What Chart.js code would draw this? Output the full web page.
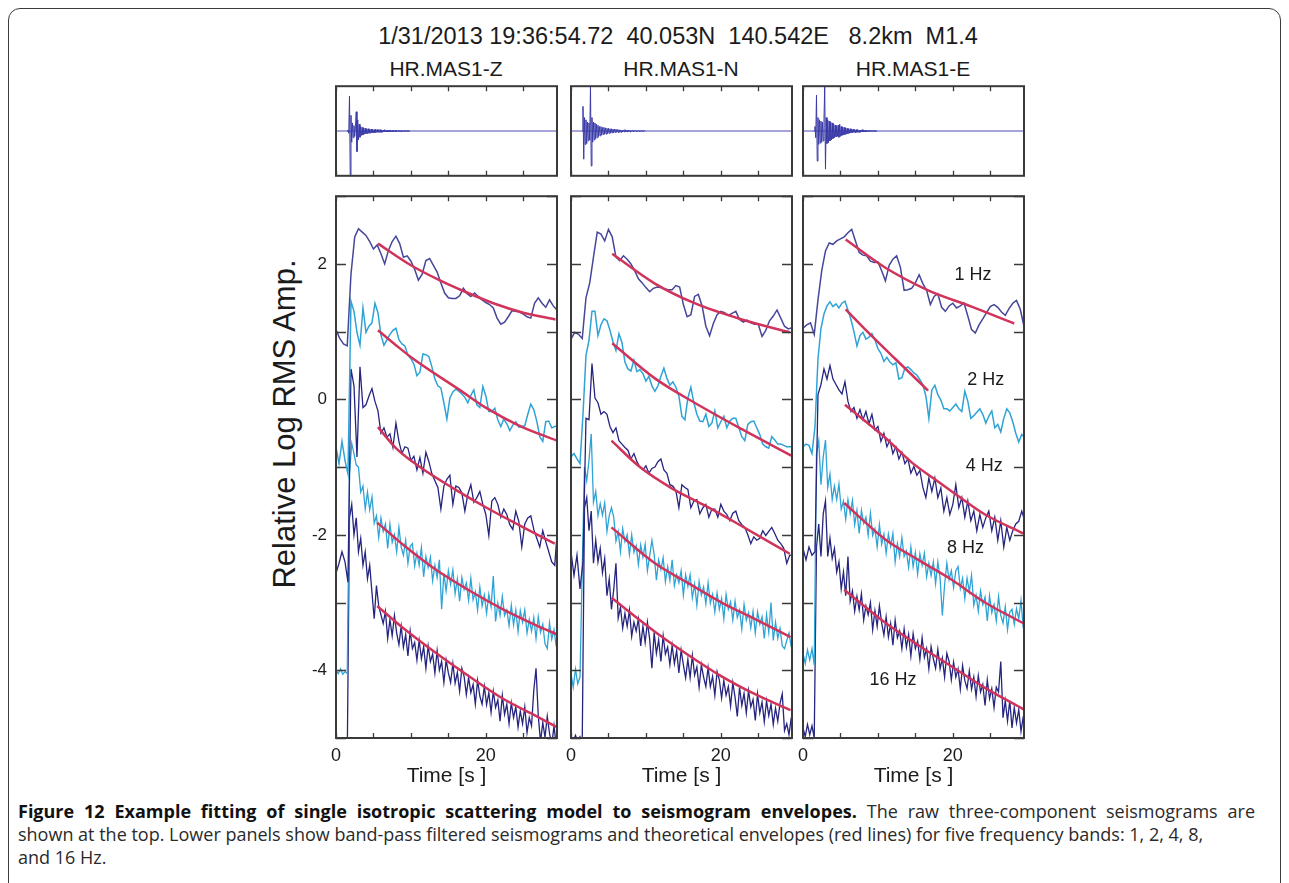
<!DOCTYPE html>
<html>
<head>
<meta charset="utf-8">
<script src="https://cdn.jsdelivr.net/npm/chart.js@4.4.0/dist/chart.umd.min.js"></script>
<style>
  html, body { margin: 0; padding: 0; background: #fff; }
  body { width: 1289px; height: 883px; position: relative; overflow: hidden; font-family: "Liberation Sans", Arial, sans-serif; }
  .box { position: absolute; left: 8px; top: 8px; width: 1271px; height: 900px; border: 1.5px solid #3b3b3b; border-radius: 12px; }
  canvas { position: absolute; }
  .txt { position: absolute; color: #1b1b1b; white-space: pre; text-align: center; }
  .cap { position: absolute; left: 18px; font-family: "Open Sans", sans-serif; font-size: 18px; line-height: 23px; color: #2a2a2a; white-space: nowrap; }
  .cap b { color: #111; }
  .just { width: 1237px; white-space: normal; text-align: justify; text-align-last: justify; }
</style>
</head>
<body>
<div class="box"></div>

<div class="txt" style="left:178px; width:1000px; top:23px; font-size:23.5px;">1/31/2013 19:36:54.72  40.053N  140.542E   8.2km  M1.4</div>
<div class="txt" style="left:346px; width:200px; top:57px; font-size:21px;">HR.MAS1-Z</div>
<div class="txt" style="left:581px; width:200px; top:57px; font-size:21px;">HR.MAS1-N</div>
<div class="txt" style="left:813px; width:200px; top:57px; font-size:21px;">HR.MAS1-E</div>
<div class="txt" style="left:85px; width:400px; top:406px; font-size:31px; line-height:36px; transform: rotate(-90deg);">Relative Log RMS Amp.</div>

<canvas id="topZ" width="241" height="110" style="left:326px; top:76px;"></canvas>
<canvas id="topN" width="241" height="110" style="left:561px; top:76px;"></canvas>
<canvas id="topE" width="241" height="110" style="left:793px; top:76px;"></canvas>
<canvas id="envZ" width="289" height="620" style="left:276px; top:177px;"></canvas>
<canvas id="envN" width="289" height="620" style="left:511px; top:177px;"></canvas>
<canvas id="envE" width="289" height="620" style="left:743px; top:177px;"></canvas>

<div class="cap just" style="top:800px;"><b>Figure 12 Example fitting of single isotropic scattering model to seismogram envelopes.</b> The raw three-component seismograms are</div>
<div class="cap" style="top:823px;">shown at the top. Lower panels show band-pass filtered seismograms and theoretical envelopes (red lines) for five frequency bands: 1, 2, 4, 8,</div>
<div class="cap" style="top:846px;">and 16 Hz.</div>

<script>
  // frequency bands and sample spacing (s) of the digitised envelopes
  const bandNames = ['1 Hz', '2 Hz', '4 Hz', '8 Hz', '16 Hz'];
  const bandStep = [0.5, 0.4, 0.4, 0.3, 0.3];
  const xTickValues = [0, 5, 10, 15, 20, 25];
  const xTickLabels = [0, 20];
  const yTickValues = [-5, -4, -3, -2, -1, 0, 1, 2, 3];
  const yTickLabels = [-4, -2, 0, 2];

  // HR.MAS1-Z envelopes (log RMS amplitude)
  const zEnv1 = [1.03,0.90,0.82,0.79,1.85,2.40,2.52,2.47,2.42,2.33,
    2.22,2.28,2.15,2.00,2.20,2.33,2.41,2.30,2.10,2.12,
    2.04,1.92,1.76,1.85,2.05,2.08,1.98,1.88,1.72,1.57,
    1.50,1.49,1.49,1.53,1.64,1.56,1.52,1.57,1.52,1.47,
    1.43,1.40,1.35,1.20,1.11,1.14,1.22,1.31,1.30,1.29,
    1.26,1.22,1.20,1.42,1.50,1.42,1.36,1.47,1.38,1.32];
  const zEnv2 = [-0.70,-0.95,-0.62,-0.90,-1.10,1.45,1.30,0.99,0.80,1.35,
    0.99,1.08,1.13,1.42,1.28,0.95,0.80,0.88,0.96,1.02,
    1.05,0.88,0.82,0.79,0.65,0.60,0.52,0.35,0.40,0.67,
    0.66,0.63,0.48,0.30,0.20,0.17,-0.05,-0.29,0.02,0.11,
    0.15,0.12,0.08,0.03,-0.05,0.06,0.14,-0.08,-0.12,0.19,
    0.05,-0.18,-0.18,-0.13,-0.30,-0.40,-0.29,-0.36,-0.46,-0.38,
    -0.33,-0.41,-0.40,-0.39,-0.22,-0.07,-0.15,-0.32,-0.55,-0.62,
    -0.33,-0.32,-0.42,-0.40,-0.39];
  const zEnv4 = [-2.57,-2.42,-2.25,-2.40,-2.70,0.45,0.20,-0.85,0.48,-0.12,
    -0.08,0.05,0.16,-0.03,-0.17,-0.50,-0.42,-0.56,-0.51,-0.71,
    -0.35,-0.62,-0.80,-0.70,-0.72,-0.90,-0.84,-1.04,-0.86,-1.09,
    -0.78,-0.92,-1.10,-1.20,-1.30,-1.62,-1.28,-1.18,-1.12,-1.55,
    -1.28,-1.30,-1.38,-1.65,-1.40,-1.26,-1.52,-1.45,-1.36,-1.55,
    -1.70,-2.01,-1.50,-1.45,-1.55,-1.74,-1.62,-1.70,-1.85,-1.92,
    -1.65,-1.80,-2.18,-1.84,-1.75,-1.72,-1.92,-2.05,-2.18,-1.94,
    -2.10,-2.25,-2.40,-2.45,-1.84];
  const zEnv8 = [-4.00,-4.05,-3.98,-4.06,-4.02,-4.05,-1.10,-0.65,-0.80,-0.97,
    -1.00,-1.37,-1.28,-1.62,-1.37,-1.63,-1.44,-1.83,-1.72,-2.04,
    -1.75,-1.95,-1.84,-2.20,-1.84,-2.11,-2.00,-2.25,-1.89,-2.18,
    -2.30,-2.08,-2.42,-2.17,-2.13,-2.46,-2.27,-2.45,-2.19,-2.62,
    -2.32,-2.48,-2.33,-2.68,-2.45,-2.63,-2.37,-3.10,-2.57,-2.83,
    -2.53,-2.73,-2.52,-2.87,-2.65,-2.98,-2.63,-2.81,-2.71,-2.97,
    -2.64,-2.96,-2.84,-3.11,-2.77,-3.05,-2.89,-3.16,-2.88,-3.06,
    -2.61,-3.28,-3.01,-3.19,-2.91,-3.19,-3.11,-3.34,-3.04,-3.33,
    -3.11,-3.43,-3.12,-3.29,-3.11,-3.45,-3.25,-3.42,-3.22,-3.53,
    -3.21,-3.44,-3.32,-3.61,-3.68,-3.30,-3.54,-3.40,-3.65];
  const zEnv16 = [-5.30,-5.30,-5.30,-5.30,-5.30,-5.30,-1.75,-1.55,-2.00,-1.75,
    -2.25,-2.05,-2.45,-2.25,-2.65,-2.45,-2.85,-3.24,-2.75,-3.05,
    -3.18,-3.31,-3.13,-3.53,-3.25,-3.49,-3.19,-3.45,-3.62,-3.35,
    -3.66,-3.47,-3.79,-3.42,-3.68,-3.59,-3.85,-3.56,-3.83,-3.65,
    -3.97,-3.64,-3.87,-3.76,-4.04,-3.71,-4.00,-3.87,-4.18,-3.85,
    -4.04,-4.18,-3.90,-4.19,-4.03,-4.31,-3.97,-4.09,-4.36,-4.11,
    -4.33,-4.21,-4.50,-4.15,-4.38,-4.50,-4.24,-4.51,-4.33,-4.62,
    -4.31,-4.55,-4.44,-4.75,-4.37,-4.65,-4.50,-4.79,-4.48,-4.70,
    -4.54,-4.84,-4.60,-4.79,-4.54,-4.92,-4.70,-4.82,-4.30,-3.97,
    -4.67,-5.06,-4.77,-4.99,-4.68,-4.93,-5.10,-4.82,-5.12];

  // HR.MAS1-N envelopes
  const nEnv1 = [0.89,0.99,0.96,0.90,1.50,1.72,2.10,2.47,2.44,2.34,
    2.51,2.40,2.10,2.05,2.12,2.07,2.00,1.90,1.78,1.72,
    1.65,1.59,1.64,1.66,1.65,1.63,1.62,1.62,1.68,1.66,
    1.40,1.22,1.25,1.52,1.55,1.38,1.08,0.94,1.12,1.25,
    1.30,1.28,1.24,1.27,1.30,1.18,1.14,1.17,1.13,1.11,
    1.11,0.93,1.02,1.16,1.23,1.32,1.20,1.08,1.04,1.06];
  const nEnv2 = [-0.85,-0.80,-0.88,-0.95,-0.22,0.65,0.87,1.30,1.30,0.94,
    1.10,1.19,1.16,1.02,0.85,0.72,0.97,0.84,0.55,0.45,
    0.42,0.58,0.41,0.44,0.38,0.27,0.34,0.20,0.12,0.20,
    0.34,0.46,0.31,0.21,0.26,0.18,0.05,-0.25,-0.30,0.02,
    0.18,-0.05,-0.22,-0.32,-0.33,-0.22,-0.40,-0.35,-0.17,-0.42,
    -0.33,-0.25,-0.42,-0.32,-0.28,-0.28,-0.42,-0.55,-0.61,-0.37,
    -0.33,-0.32,-0.42,-0.52,-0.66,-0.70,-0.72,-0.55,-0.60,-0.66,
    -0.66,-0.68,-0.70,-0.70,-0.70];
  const nEnv4 = [-2.25,-2.60,-2.30,-2.80,-2.40,-0.28,-0.30,0.53,0.02,-0.05,
    -0.22,-0.18,-0.22,-0.40,-0.49,-0.42,-0.61,-0.66,-0.71,-0.75,
    -0.88,-0.80,-0.92,-1.00,-1.04,-0.98,-1.09,-1.02,-1.00,-0.92,
    -0.88,-1.04,-1.09,-1.26,-1.28,-1.35,-1.60,-1.26,-1.30,-1.33,
    -1.60,-1.50,-1.48,-1.69,-1.60,-1.55,-1.74,-1.62,-1.62,-1.74,
    -1.55,-1.65,-1.70,-1.79,-1.68,-1.65,-1.79,-1.85,-1.89,-2.00,
    -2.13,-2.03,-2.08,-2.05,-1.94,-2.01,-1.95,-1.89,-1.98,-2.08,
    -2.13,-2.20,-2.42,-2.30,-2.30];
  const nEnv8 = [-4.05,-4.25,-3.98,-4.20,-4.10,-2.50,-1.00,-1.20,-0.90,-0.51,
    -1.52,-1.36,-1.72,-1.54,-1.71,-1.53,-1.95,-1.72,-1.60,-1.74,
    -2.09,-1.95,-2.25,-1.91,-2.10,-2.00,-2.29,-2.00,-2.26,-2.16,
    -2.44,-2.15,-2.33,-2.14,-2.53,-2.31,-2.08,-2.29,-2.67,-2.37,
    -2.51,-2.34,-2.69,-2.47,-2.67,-2.37,-2.75,-2.59,-2.71,-2.53,
    -2.89,-2.59,-2.76,-2.59,-2.93,-2.73,-3.04,-2.69,-2.89,-2.77,
    -3.02,-2.71,-3.01,-2.88,-3.14,-2.86,-3.10,-2.94,-3.24,-2.88,
    -3.10,-2.99,-3.26,-2.98,-3.22,-3.11,-3.39,-3.03,-3.26,-3.15,
    -3.37,-3.13,-3.45,-3.14,-3.32,-3.21,-3.53,-3.18,-3.44,-3.00,
    -3.56,-3.29,-3.53,-3.38,-3.64,-3.68,-3.56,-3.45,-3.66];
  const nEnv16 = [-4.98,-5.05,-4.96,-5.05,-4.98,-5.05,-1.60,-1.45,-1.94,-1.65,
    -2.42,-2.08,-2.40,-2.20,-2.56,-2.35,-2.90,-2.65,-3.10,-2.81,
    -2.42,-3.23,-3.07,-3.38,-3.16,-3.35,-3.11,-3.50,-3.29,-3.42,
    -3.24,-3.64,-3.35,-3.59,-3.29,-3.54,-3.97,-3.44,-3.75,-3.55,
    -3.87,-3.49,-3.76,-3.66,-3.92,-3.63,-3.90,-3.71,-4.04,-3.70,
    -3.92,-4.11,-3.84,-4.11,-3.78,-4.07,-3.95,-4.25,-3.92,-4.10,
    -4.24,-3.96,-4.24,-4.09,-4.37,-4.02,-4.14,-4.41,-4.15,-4.37,
    -4.24,-4.53,-4.18,-4.40,-4.68,-4.25,-4.52,-4.34,-4.63,-4.30,
    -4.54,-4.43,-4.74,-4.35,-4.63,-4.47,-4.76,-4.45,-4.67,-4.50,
    -4.80,-4.56,-4.75,-4.49,-4.35,-4.89,-4.79,-4.95,-4.70];

  // HR.MAS1-E envelopes
  const eEnv1 = [1.05,1.10,1.13,0.96,1.47,1.90,2.19,2.31,2.29,2.34,
    2.37,2.40,2.46,2.51,2.34,2.17,2.13,2.12,2.04,2.02,
    2.03,1.90,1.75,1.98,2.07,2.12,1.95,1.61,1.62,1.64,
    1.72,1.84,1.71,1.61,1.40,1.52,1.56,1.36,1.30,1.38,
    1.42,1.35,1.38,1.42,1.23,1.03,0.98,1.10,1.19,1.28,
    1.37,1.40,1.36,1.29,1.24,1.34,1.42,1.46,1.33,1.08];
  const eEnv2 = [-0.70,-0.66,-0.68,-0.80,-0.40,0.60,1.05,1.26,1.38,1.44,
    1.37,1.41,1.35,1.42,1.45,1.32,1.18,1.00,0.79,0.94,
    0.99,0.89,0.92,0.97,0.88,0.75,0.68,0.56,0.62,0.55,
    0.51,0.54,0.30,0.32,0.46,0.48,0.44,0.39,0.36,0.29,
    0.22,0.05,-0.28,0.14,0.21,0.07,-0.01,-0.14,-0.14,-0.17,
    -0.12,-0.07,-0.14,-0.18,0.12,-0.03,-0.28,-0.24,-0.19,-0.14,
    -0.22,-0.35,-0.25,-0.17,-0.42,-0.37,-0.48,-0.28,-0.14,-0.20,
    -0.33,-0.50,-0.63,-0.52,-0.56];
  const eEnv4 = [-2.20,-2.37,-2.18,-2.30,-2.25,0.07,0.22,0.45,0.30,0.50,
    0.30,0.22,0.14,0.08,0.26,-0.03,-0.18,-0.12,-0.28,-0.15,
    -0.30,-0.18,-0.36,-0.22,-0.45,-0.40,-0.62,-0.50,-0.70,-0.60,
    -0.80,-0.70,-0.88,-0.78,-0.95,-0.88,-1.09,-0.99,-1.12,-1.05,
    -1.30,-1.45,-1.16,-1.36,-1.16,-1.45,-1.31,-1.65,-1.45,-1.70,
    -1.55,-1.26,-1.60,-1.45,-1.74,-1.50,-1.79,-1.65,-1.94,-1.70,
    -1.89,-1.75,-1.65,-1.94,-1.74,-2.08,-1.79,-2.18,-1.89,-2.08,
    -1.94,-1.84,-1.80,-1.65,-1.79];
  const eEnv8 = [-3.75,-3.90,-3.70,-3.85,-3.68,-3.92,-0.80,-0.61,-1.26,-0.85,
    -0.60,-1.30,-1.10,-1.48,-1.28,-1.48,-1.25,-1.62,-1.50,-1.77,
    -1.48,-1.69,-1.49,-1.85,-1.64,-1.98,-1.64,-1.83,-1.74,-2.01,
    -1.68,-2.01,-1.91,-2.18,-1.85,-2.14,-1.99,-2.27,-1.99,-2.17,
    -1.98,-2.40,-2.13,-2.32,-2.04,-2.32,-2.24,-2.48,-2.18,-2.47,
    -2.26,-2.58,-2.28,-2.45,-2.27,-2.62,-2.42,-2.60,-2.40,-2.72,
    -2.40,-2.64,-3.19,-2.74,-2.42,-2.66,-2.53,-2.78,-2.53,-2.47,
    -2.79,-2.64,-2.94,-2.64,-2.84,-2.60,-3.04,-2.89,-3.13,-2.83,
    -3.03,-2.92,-3.27,-2.90,-3.15,-3.03,-3.27,-2.91,-3.19,-3.30,
    -3.06,-3.40,-3.14,-3.10,-3.32,-3.09,-3.24,-2.97,-3.38];
  const eEnv16 = [-4.85,-4.98,-4.80,-4.95,-4.82,-5.00,-2.18,-1.84,-2.32,-1.69,
    -1.50,-2.32,-2.05,-2.35,-2.20,-2.55,-2.40,-2.80,-2.55,-2.90,
    -2.32,-2.98,-2.83,-3.13,-2.91,-3.11,-2.87,-3.26,-3.05,-3.18,
    -3.00,-3.40,-3.12,-3.35,-3.05,-3.30,-3.48,-3.21,-3.51,-3.31,
    -3.63,-3.26,-3.52,-3.42,-3.68,-3.39,-3.66,-3.47,-3.79,-3.46,
    -3.68,-3.57,-3.84,-3.52,-3.81,-3.68,-3.98,-3.65,-3.83,-3.97,
    -3.69,-3.98,-3.82,-4.10,-3.75,-3.87,-4.14,-3.88,-4.10,-3.98,
    -4.28,-3.93,-4.15,-4.27,-4.01,-4.28,-4.10,-4.39,-4.08,-4.32,
    -4.21,-4.52,-4.14,-4.42,-4.27,-4.55,-4.25,-4.32,-3.87,-4.70,
    -4.45,-4.75,-4.45,-4.85,-4.55,-4.78,-4.58,-4.90,-4.68];

  // theoretical envelopes: [time s, log amp]
  const zFit1 = [[5.6,2.30],[10,1.98],[13.8,1.76],[17,1.60],[21,1.42],[25,1.28],[29.3,1.18]];
  const zFit2 = [[5.6,1.02],[8,0.80],[10.3,0.60],[16.5,0.14],[20.1,-0.13],[24.5,-0.39],[29.5,-0.61]];
  const zFit4 = [[5.6,-0.41],[8,-0.72],[11.2,-1.00],[15.6,-1.31],[20.1,-1.60],[24.5,-1.86],[29.2,-2.13]];
  const zFit8 = [[5.5,-1.82],[9,-2.15],[13.4,-2.52],[17.9,-2.83],[22.3,-3.10],[26.8,-3.34],[29.5,-3.47]];
  const zFit16 = [[5.5,-3.05],[9,-3.38],[13.4,-3.75],[17.9,-4.10],[22.3,-4.42],[26.8,-4.68],[29.5,-4.84]];
  const nFit1 = [[5.5,2.15],[11.2,1.71],[16.5,1.42],[22.8,1.18],[29.2,0.99]];
  const nFit2 = [[5.5,0.83],[11.2,0.31],[16.5,-0.05],[22.8,-0.44],[29.4,-0.83]];
  const nFit4 = [[5.4,-0.61],[9.2,-1.00],[13.4,-1.31],[17.9,-1.57],[22.3,-1.84],[29.2,-2.28]];
  const nFit8 = [[5.4,-1.89],[11.2,-2.42],[15.6,-2.71],[20.1,-3.00],[24.5,-3.24],[29.3,-3.51]];
  const nFit16 = [[5.4,-2.93],[11.2,-3.43],[15.6,-3.77],[20.1,-4.09],[24.5,-4.35],[29.3,-4.59]];
  const eFit1 = [[5.7,2.36],[10.9,1.95],[16.7,1.61],[22.5,1.37],[28.2,1.12]];
  const eFit2 = [[5.7,1.33],[8.7,0.99],[12.3,0.60],[16.7,0.13]];
  const eFit4 = [[5.6,-0.08],[10.9,-0.56],[14.5,-0.93],[17.6,-1.18],[21,-1.45],[24.3,-1.70],[29.4,-1.98]];
  const eFit8 = [[5.5,-1.53],[10.9,-2.06],[15.4,-2.37],[19.8,-2.66],[24.3,-3.00],[29.5,-3.31]];
  const eFit16 = [[5.5,-2.81],[10.9,-3.29],[15.4,-3.63],[19.8,-3.94],[24.3,-4.26],[29.5,-4.58]];

  // raw seismograms (normalised), sampled every 0.1 s from 1.5 s
  const seisStart = 1.5;
  const seisStep = 0.1;
  const zSeis = [0,0.02,-0.05,0.78,-1.0,0.35,-0.25,0.18,-0.15,0.12,
    -0.12,0.10,0.43,-0.46,0.25,-0.20,0.15,-0.14,0.10,-0.10,
    0.08,-0.09,0.07,-0.07,0.06,-0.06,0.05,-0.06,0.05,-0.05,
    0.04,-0.05,0.04,-0.04,0.04,-0.04,0.03,-0.04,0.04,-0.03,
    0.03,-0.03,0.03,-0.03,0.03,-0.03,0.02,-0.03,0.02,-0.02,
    0.03,-0.02,0.02,-0.02,0.02,-0.02,0.02,-0.02,0.02,-0.02,
    0.01,-0.02,0.02,-0.01,0.01,-0.02,0.02,-0.01,0.01,-0.01,
    0.01,-0.02,0.01,-0.01,0.01,-0.01,0.01,-0.01,0.01,-0.01,
    0.01,-0.01,0.01,-0.01,0];
  const nSeis = [0,0.55,-0.63,0.30,-0.30,0.25,-0.28,0.20,-0.22,0.18,
    -0.20,1.0,-0.78,0.30,-0.25,0.20,-0.20,0.18,-0.17,0.15,
    -0.15,0.13,-0.12,0.10,-0.11,0.10,-0.09,0.08,-0.08,0.08,
    -0.07,0.07,-0.07,0.06,-0.06,0.06,-0.05,0.05,-0.05,0.05,
    -0.04,0.04,-0.04,0.04,-0.03,0.04,-0.03,0.03,-0.03,0.03,
    -0.03,0.02,-0.03,0.02,-0.02,0.02,-0.02,0.03,-0.02,0.02,
    -0.02,0.02,-0.01,0.02,-0.02,0.01,-0.01,0.02,-0.01,0.01,
    -0.01,0.01,-0.01,0.01,-0.01,0.01,-0.01,0.01,-0.01,0.01,
    -0.01,0.01,-0.01,0.01,0];
  const eSeis = [0,0.10,-0.15,0.80,-0.67,0.30,-0.30,0.25,-0.27,0.22,
    -0.25,0.20,-0.22,0.25,1.0,-0.85,0.30,-0.28,0.25,-0.26,
    0.22,-0.22,0.20,-0.20,0.18,-0.17,0.15,-0.15,0.13,-0.13,
    0.12,-0.12,0.13,-0.14,0.15,-0.12,0.10,-0.10,0.09,-0.09,
    0.08,-0.08,0.07,-0.07,0.06,-0.06,0.05,-0.05,0.05,-0.04,
    0.04,-0.04,0.04,-0.03,0.03,-0.04,0.03,-0.03,0.03,-0.03,
    0.02,-0.03,0.02,-0.02,0.03,-0.02,0.02,-0.02,0.02,-0.02,
    0.01,-0.02,0.01,-0.01,0.02,-0.01,0.01,-0.01,0.01,-0.01,
    0.01,-0.01,0.01,-0.01,0];

  // where the band names sit in the E panel (data coords)
  const bandLabelSpots = [[22.7, 1.84], [24.4, 0.29], [24.2, -0.99], [21.7, -2.20], [12.0, -4.15]];

  const bandColors = ['#46469a', '#2fa3d6', '#25247f', '#2fa3d6', '#25247f'];
  const bandWidths = [1.5, 1.5, 1.3, 1.3, 1.3];
  const fitColor = '#d1345b';
  const xMax = 29.5;

  Chart.defaults.font.family = "'Liberation Sans', Arial, sans-serif";
  Chart.defaults.color = '#1b1b1b';

  const frameTicks = {
    id: 'frameTicks',
    afterDatasetsDraw(chart, args, opts) {
      const { ctx, chartArea: a } = chart;
      const sx = chart.scales.x, sy = chart.scales.y;
      ctx.save();
      ctx.strokeStyle = '#3a3a3a';
      ctx.lineWidth = 1.3;
      ctx.beginPath();
      xTickValues.forEach(v => {
        const px = Math.round(sx.getPixelForValue(v)) + 0.5;
        ctx.moveTo(px, a.top); ctx.lineTo(px, a.top + 5);
        ctx.moveTo(px, a.bottom); ctx.lineTo(px, a.bottom - 5);
      });
      (opts.yTicks || []).forEach(v => {
        const py = Math.round(sy.getPixelForValue(v)) + 0.5;
        ctx.moveTo(a.left, py); ctx.lineTo(a.left + 10, py);
        ctx.moveTo(a.right, py); ctx.lineTo(a.right - 10, py);
      });
      ctx.stroke();
      ctx.lineWidth = 2;
      ctx.strokeRect(a.left, a.top, a.right - a.left, a.bottom - a.top);
      if (opts.labels) {
        ctx.fillStyle = '#1b1b1b';
        ctx.font = "18px 'Liberation Sans', Arial, sans-serif";
        ctx.textAlign = 'center';
        ctx.textBaseline = 'middle';
        bandNames.forEach((name, i) => {
          const p = bandLabelSpots[i];
          ctx.fillText(name, sx.getPixelForValue(p[0]), sy.getPixelForValue(p[1]));
        });
      }
      ctx.restore();
    }
  };

  function envChart(id, envs, fits, showY, showLabels) {
    const datasets = [];
    fits.forEach(f => {
      datasets.push({
        data: f.map(p => ({ x: p[0], y: p[1] })),
        borderColor: fitColor, borderWidth: 2.5, pointRadius: 0,
        cubicInterpolationMode: 'monotone', order: 0
      });
    });
    envs.forEach((vals, b) => {
      datasets.push({
        data: vals.map((v, i) => ({ x: +(i * bandStep[b]).toFixed(2), y: v })),
        borderColor: bandColors[b], borderWidth: bandWidths[b], pointRadius: 0,
        tension: 0, order: 1
      });
    });
    new Chart(document.getElementById(id), {
      type: 'line',
      data: { datasets },
      options: {
        responsive: false, animation: false, devicePixelRatio: 1, events: [],
        layout: { padding: { top: 10, right: 8, left: 0, bottom: 0 } },
        plugins: {
          legend: { display: false }, tooltip: { enabled: false },
          frameTicks: { yTicks: yTickValues, labels: showLabels }
        },
        scales: {
          x: {
            type: 'linear', min: 0, max: xMax,
            grid: { display: false, drawTicks: false }, border: { display: false },
            ticks: {
              stepSize: 5, padding: 7, maxRotation: 0, autoSkip: false,
              font: { size: 18 },
              callback: v => xTickLabels.includes(v) ? String(v) : ''
            },
            title: { display: true, text: 'Time [s ]', font: { size: 21 }, padding: { top: 0, bottom: 8 } },
            afterFit: s => { s.height = 59; }
          },
          y: {
            min: -5, max: 3,
            grid: { display: false, drawTicks: false }, border: { display: false },
            ticks: {
              stepSize: 1, padding: 9, font: { size: 17 },
              callback: v => showY && yTickLabels.includes(v) ? String(v) : ''
            },
            afterFit: s => { s.width = 60; }
          }
        }
      },
      plugins: [frameTicks]
    });
  }

  function seisChart(id, vals) {
    new Chart(document.getElementById(id), {
      type: 'line',
      data: {
        datasets: [
          { data: vals.map((v, i) => ({ x: +(seisStart + i * seisStep).toFixed(2), y: v })),
            borderColor: '#3a3aa8', borderWidth: 1, pointRadius: 0, tension: 0 },
          { data: [{ x: 0, y: 0 }, { x: xMax, y: 0 }],
            borderColor: '#4a4ab0', borderWidth: 1, pointRadius: 0 }
        ]
      },
      options: {
        responsive: false, animation: false, devicePixelRatio: 1, events: [],
        layout: { padding: { top: 8, right: 10, left: 0, bottom: 0 } },
        plugins: { legend: { display: false }, tooltip: { enabled: false }, frameTicks: {} },
        scales: {
          x: {
            type: 'linear', min: 0, max: xMax,
            grid: { display: false, drawTicks: false }, border: { display: false },
            ticks: { callback: () => '' },
            afterFit: s => { s.height = 9; }
          },
          y: {
            min: -1, max: 1,
            grid: { display: false, drawTicks: false }, border: { display: false },
            ticks: { callback: () => '' },
            afterFit: s => { s.width = 10; }
          }
        }
      },
      plugins: [frameTicks]
    });
  }

  seisChart('topZ', zSeis);
  seisChart('topN', nSeis);
  seisChart('topE', eSeis);
  envChart('envZ', [zEnv1, zEnv2, zEnv4, zEnv8, zEnv16], [zFit1, zFit2, zFit4, zFit8, zFit16], true, false);
  envChart('envN', [nEnv1, nEnv2, nEnv4, nEnv8, nEnv16], [nFit1, nFit2, nFit4, nFit8, nFit16], false, false);
  envChart('envE', [eEnv1, eEnv2, eEnv4, eEnv8, eEnv16], [eFit1, eFit2, eFit4, eFit8, eFit16], false, true);
</script>
</body>
</html>
